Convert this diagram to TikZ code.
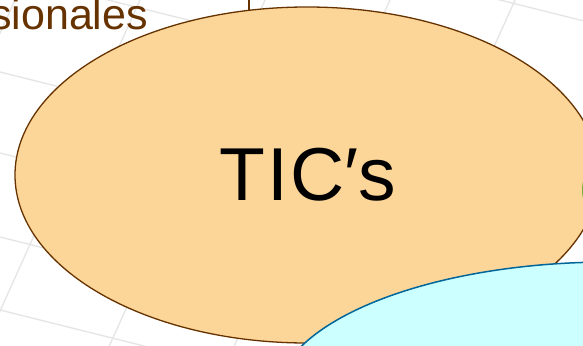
\documentclass[tikz,border=0pt]{standalone}
\usepackage{fontspec}
\setmainfont{Liberation Sans}
\usetikzlibrary{positioning,shapes.geometric,backgrounds}
\definecolor{ticfill}{HTML}{FCD598}
\definecolor{ticline}{HTML}{663300}
\definecolor{swfill}{HTML}{CCFFFF}
\definecolor{swline}{HTML}{006699}
\definecolor{hwline}{HTML}{339900}
\definecolor{gridgray}{HTML}{E6E6E6}

\begin{document}
\begin{tikzpicture}[x=1pt, y=-1pt,
        blob/.style={ellipse, inner sep=0pt, line width=1.3pt},
        tile/.style={gridgray, line width=1.4pt},
    ]
    \useasboundingbox (0,0) rectangle (583,345);
    \clip (0,0) rectangle (583,345);
    \node[blob, draw=ticline, fill=ticfill, minimum width=584pt, minimum height=336pt,
          font=\fontsize{75}{80}\selectfont] (tic) at (307,175)
          {\raisebox{-3.5pt}{\hspace{2pt}T\kern2ptI\kern2ptC′s}};
    \node[blob, draw=swline, fill=swfill, line width=1.5pt,
          minimum width=670pt, minimum height=276pt] (sw) at (610,400) {};
    \node[blob, draw=hwline, line width=2pt,
          minimum width=600pt, minimum height=240pt] (hw) at (883.3,190) {};
    \node[anchor=base west, inner sep=0pt, text=ticline,
          font=\fontsize{43}{48}\selectfont] (prof) at (-10,30) {sionales};
    \coordinate (up) at (249,-10);
    \begin{scope}[on background layer]
        \foreach \y in {-125,-27,72,153,237,310}
            \draw[tile] (-10,\y-2.5) -- ++(620,155);
        \foreach \x in {15,140,265,390,515,640}
            \draw[tile] (\x+4.5,-10) -- ++(-180,400);
        \draw[ticline, line width=1.2pt] (up) -- (up |- tic.center);
    \end{scope}
\end{tikzpicture}
\end{document}
